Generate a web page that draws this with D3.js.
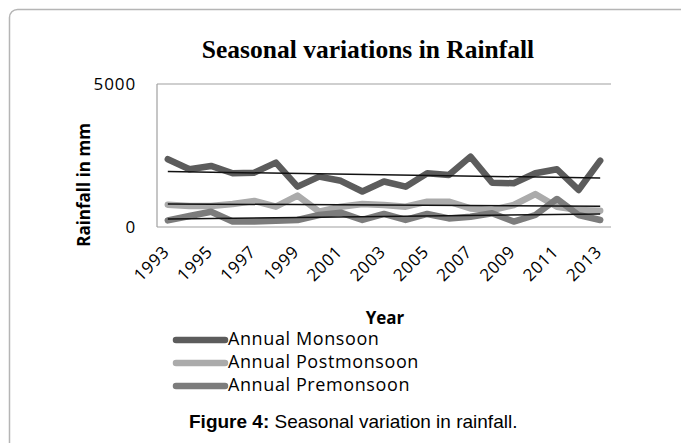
<!DOCTYPE html>
<html>
<head>
<meta charset="utf-8">
<script src="https://cdn.jsdelivr.net/npm/d3@7"></script>
<style>
  body { margin: 0; background: #fff; }
  text { fill: #000; }
</style>
</head>
<body>
<script>
"use strict";

const years = ["1993", "1994", "1995", "1996", "1997", "1998", "1999", "2000", "2001", "2002", "2003",
  "2004", "2005", "2006", "2007", "2008", "2009", "2010", "2011", "2012", "2013"];
const yearTicks = ["1993", "1995", "1997", "1999", "2001", "2003", "2005", "2007", "2009", "2011", "2013"];
const yTicks = [0, 5000];

const seriesNames = ["Annual Monsoon", "Annual Postmonsoon", "Annual Premonsoon"];
const monsoon = [2370, 2020, 2135, 1880, 1900, 2250, 1410, 1760, 1615, 1240, 1590,
  1410, 1880, 1820, 2460, 1550, 1530, 1880, 2020, 1295, 2320];
const postmonsoon = [780, 735, 735, 805, 910, 710, 1100, 535, 710, 805, 770,
  710, 885, 885, 650, 595, 770, 1150, 710, 595, 570];
const premonsoon = [230, 385, 535, 190, 190, 220, 245, 420, 500, 245, 455,
  245, 455, 300, 360, 480, 190, 420, 980, 420, 245];

const colors = ["#5c5c5c", "#ababab", "#7c7c7c"];
const series = [monsoon, postmonsoon, premonsoon];

const m = { width: 681, height: 443 };
const plot = { left: 157, right: 611, top: 84, bottom: 227 };
const calibri = "'Open Sans', sans-serif";

const svg = d3
  .select("body")
  .append("svg")
  .attr("width", m.width)
  .attr("height", m.height);

// outer panel border
svg.append("rect")
  .attr("x", 9.5)
  .attr("y", 9.5)
  .attr("width", 700)
  .attr("height", 460)
  .attr("rx", 8)
  .attr("fill", "none")
  .attr("stroke", "#b5b5b5")
  .attr("stroke-width", 1.5);

svg.append("text")
  .attr("x", 368)
  .attr("y", 58)
  .attr("text-anchor", "middle")
  .attr("font-family", "'Liberation Serif', serif")
  .attr("font-weight", "bold")
  .attr("font-size", 25.5)
  .text("Seasonal variations in Rainfall");

const x = d3.scalePoint()
  .domain(years)
  .range([plot.left, plot.right])
  .padding(0.5);

const y = d3.scaleLinear()
  .domain([0, 5000])
  .range([plot.bottom, plot.top]);

// frame: left axis, top gridline, bottom axis
const frame = svg.append("g").attr("stroke", "#a0a0a0").attr("stroke-width", 1.2);
frame.append("line")
  .attr("x1", plot.left).attr("x2", plot.left)
  .attr("y1", y(5000)).attr("y2", y(0));
yTicks.forEach(v => {
  frame.append("line")
    .attr("x1", plot.left).attr("x2", plot.right)
    .attr("y1", y(v)).attr("y2", y(v));
});

const yAxis = svg.append("g")
  .attr("transform", `translate(${plot.left},0)`)
  .call(d3.axisLeft(y).tickValues(yTicks).tickSize(0).tickPadding(21).tickFormat(d3.format("d")));
yAxis.select(".domain").remove();
yAxis.selectAll("text")
  .attr("font-family", calibri)
  .attr("font-size", 17)
  .attr("letter-spacing", 0.9)
  .attr("dy", "0.3em");

const xAxis = svg.append("g")
  .attr("transform", `translate(0,${plot.bottom})`)
  .call(d3.axisBottom(x).tickValues(yearTicks).tickSize(0));
xAxis.select(".domain").remove();
xAxis.selectAll("text")
  .attr("font-family", calibri)
  .attr("font-size", 17)
  .attr("letter-spacing", 0.6)
  .attr("text-anchor", "end")
  .attr("dy", 0)
  .attr("y", 0)
  .attr("transform", "translate(2,26) rotate(-45)");

svg.append("text")
  .attr("transform", "translate(90,185) rotate(-90)")
  .attr("text-anchor", "middle")
  .attr("font-family", calibri)
  .attr("font-weight", "bold")
  .attr("font-size", 17)
  .text("Rainfall in mm");

svg.append("text")
  .attr("x", 385)
  .attr("y", 324)
  .attr("text-anchor", "middle")
  .attr("font-family", calibri)
  .attr("font-weight", "bold")
  .attr("font-size", 17)
  .text("Year");

const line = d3.line()
  .x((d, i) => x(years[i]))
  .y(d => y(d));

svg.append("g")
  .selectAll("path")
  .data(series)
  .enter()
  .append("path")
  .attr("d", line)
  .attr("fill", "none")
  .attr("stroke", (d, i) => colors[i])
  .attr("stroke-width", 6.5)
  .attr("stroke-linejoin", "round")
  .attr("stroke-linecap", "round");

// linear trendlines (least squares)
function trend(vals) {
  const n = vals.length;
  const xs = d3.range(n);
  const mx = d3.mean(xs), my = d3.mean(vals);
  const slope = d3.sum(xs, i => (i - mx) * (vals[i] - my)) / d3.sum(xs, i => (i - mx) * (i - mx));
  const b = my - slope * mx;
  return [b, b + slope * (n - 1)];
}

svg.append("g")
  .selectAll("line")
  .data(series.map(trend))
  .enter()
  .append("line")
  .attr("x1", x(years[0]))
  .attr("x2", x(years[years.length - 1]))
  .attr("y1", d => y(d[0]))
  .attr("y2", d => y(d[1]))
  .attr("stroke", "#111")
  .attr("stroke-width", 1.5);

const legend = svg.append("g")
  .selectAll("g")
  .data(seriesNames)
  .enter()
  .append("g")
  .attr("transform", (d, i) => `translate(0,${345 + i * 23})`);

legend.append("line")
  .attr("x1", 176).attr("x2", 225)
  .attr("y1", -5).attr("y2", -5)
  .attr("stroke", (d, i) => colors[i])
  .attr("stroke-width", 6.5)
  .attr("stroke-linecap", "round");

legend.append("text")
  .attr("x", 228)
  .attr("font-family", calibri)
  .attr("font-size", 18)
  .attr("letter-spacing", 0.6)
  .text(d => d);

const caption = svg.append("text")
  .attr("x", 189)
  .attr("y", 428)
  .attr("font-family", "'Liberation Sans', Arial, sans-serif")
  .attr("font-size", 19);
caption.append("tspan").attr("font-weight", "bold").text("Figure 4:");
caption.append("tspan").text(" Seasonal variation in rainfall.");
</script>
</body>
</html>
